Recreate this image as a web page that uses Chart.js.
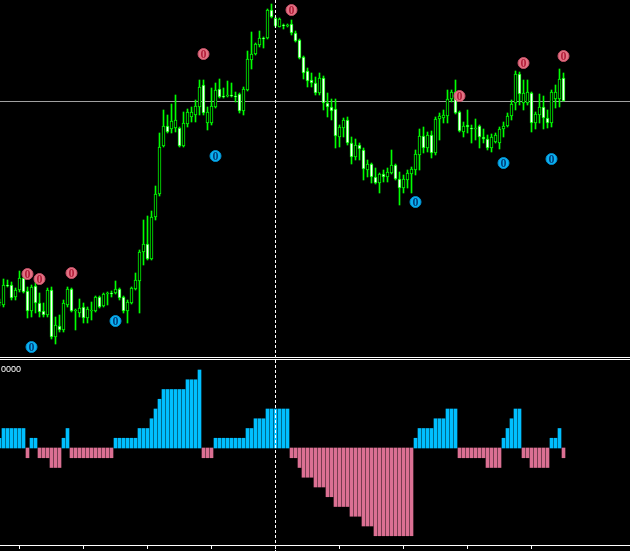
<!DOCTYPE html>
<html>
<head>
<meta charset="utf-8">
<script src="https://cdn.jsdelivr.net/npm/chart.js@4.4.1/dist/chart.umd.min.js"></script>
<style>
	html, body { margin: 0; padding: 0; background: #000; overflow: hidden; }
	canvas { display: block; }
</style>
</head>
<body>
<canvas id="myChart" width="630" height="551"></canvas>
<script>
	//Candle Data (one entry per bar, oldest first, first bar index is firstBar)
	var firstBar = -1;
	var openPrices = [57, 55, 75, 75, 63, 70, 82, 69, 49, 74, 57, 49, 45, 70, 23, 34, 30, 55, 71, 49, 47, 53, 42, 49, 49, 63, 54, 66, 67, 67, 71, 63, 49, 57, 71, 79,
		108, 116, 101, 143, 166, 214, 234, 231, 232, 232, 214, 236, 243, 245, 253, 275, 237, 237, 253, 271, 264, 264, 265, 264, 266, 249, 270, 300, 306, 315, 322, 322,
		350, 342, 333, 335, 334, 336, 327, 320, 303, 289, 280, 277, 267, 282, 257, 253, 251, 223, 232, 240, 217, 203, 215, 210, 190, 196, 183, 177, 186, 183, 187, 195,
		181, 172, 180, 186, 190, 205, 224, 212, 225, 207, 241, 242, 244, 261, 268, 248, 228, 235, 232, 231, 234, 223, 221, 212, 218, 217, 231, 234, 244, 257, 286, 257,
		257, 267, 237, 245, 253, 242, 237, 261, 261, 282];
	var highPrices = [61, 81, 80, 78, 72, 89, 83, 73, 75, 82, 67, 57, 72, 73, 43, 45, 60, 73, 72, 51, 61, 57, 53, 58, 64, 64, 67, 68, 69, 79, 72, 64, 60, 73, 87, 110,
		140, 144, 149, 174, 227, 250, 245, 256, 265, 233, 248, 251, 253, 260, 280, 280, 253, 272, 277, 281, 272, 279, 277, 268, 267, 273, 309, 328, 317, 329, 323, 351,
		356, 343, 342, 336, 336, 340, 329, 321, 304, 292, 287, 283, 287, 284, 267, 261, 261, 235, 242, 243, 223, 221, 217, 212, 200, 197, 192, 187, 190, 192, 210, 196,
		188, 185, 190, 193, 210, 231, 233, 228, 229, 243, 247, 250, 270, 270, 280, 249, 238, 250, 235, 241, 235, 231, 225, 226, 227, 233, 238, 247, 260, 289, 288, 280,
		280, 268, 248, 266, 264, 250, 270, 275, 291, 287];
	var lowPrices = [54, 53, 73, 60, 60, 68, 67, 42, 43, 47, 43, 43, 43, 21, 16, 28, 28, 53, 48, 30, 43, 37, 37, 40, 48, 52, 53, 55, 63, 66, 60, 47, 37, 56, 70, 47,
		95, 100, 100, 140, 164, 213, 227, 227, 228, 213, 213, 233, 238, 238, 245, 245, 230, 235, 252, 262, 262, 263, 263, 258, 247, 245, 269, 291, 305, 313, 312, 321,
		342, 333, 333, 331, 333, 325, 318, 301, 281, 273, 273, 265, 265, 250, 243, 240, 212, 213, 223, 215, 196, 200, 200, 180, 183, 177, 176, 167, 178, 178, 186, 180,
		155, 167, 172, 167, 185, 190, 207, 208, 202, 205, 220, 237, 237, 258, 246, 228, 223, 227, 217, 220, 212, 217, 210, 208, 217, 211, 223, 233, 240, 250, 255, 250,
		255, 228, 231, 237, 231, 232, 233, 252, 253, 259];
	var closePrices = [58, 75, 74, 62, 70, 82, 68, 49, 73, 57, 48, 45, 70, 23, 35, 30, 57, 71, 49, 50, 52, 42, 51, 50, 63, 53, 66, 67, 66, 71, 62, 49, 58, 72, 80, 108,
		116, 101, 143, 166, 213, 234, 228, 239, 240, 214, 237, 248, 248, 254, 273, 247, 248, 254, 270, 263, 263, 265, 264, 263, 249, 271, 301, 306, 316, 322, 321, 350,
		343, 334, 341, 334, 335, 327, 319, 302, 287, 279, 277, 267, 282, 257, 253, 249, 224, 233, 240, 217, 203, 215, 211, 191, 196, 183, 177, 186, 183, 188, 195, 181,
		172, 181, 187, 191, 206, 224, 212, 225, 207, 241, 244, 245, 261, 268, 247, 229, 234, 233, 231, 232, 223, 221, 212, 223, 225, 231, 234, 244, 256, 286, 266, 267,
		268, 237, 246, 253, 242, 237, 268, 268, 281, 259];

	//Oscillator Histogram Data (same bars)
	var histValues = [1, 2, 2, 2, 2, 2, 2, -1, 1, 1, -1, -1, -1, -2, -2, -2, 1, 2, -1, -1, -1, -1, -1, -1, -1, -1, -1, -1, -1, 1, 1, 1, 1, 1, 1, 2, 2, 2, 3, 4, 5,
		6, 6, 6, 6, 6, 6, 7, 7, 7, 8, -1, -1, -1, 1, 1, 1, 1, 1, 1, 1, 1, 2, 2, 3, 3, 3, 4, 4, 4, 4, 4, 4, -1, -1, -2, -3, -3, -3, -4, -4, -4, -5, -5, -6, -6, -6, -6,
		-7, -7, -7, -8, -8, -8, -9, -9, -9, -9, -9, -9, -9, -9, -9, -9, 1, 2, 2, 2, 2, 3, 3, 3, 4, 4, 4, -1, -1, -1, -1, -1, -1, -1, -2, -2, -2, -2, 1, 2, 3, 4, 4,
		-1, -1, -2, -2, -2, -2, -2, 1, 1, 2, -1];

	//Signal Markers
	var upMarkBars = [6, 9, 17, 50, 72, 114, 130, 140];
	var upMarkPrices = [86, 81, 87, 306, 350, 264, 297, 304];
	var downMarkBars = [7, 28, 53, 103, 125, 137];
	var downMarkPrices = [13, 39, 204, 158, 197, 201];

	//Other Levels
	var bidPrice = 259;
	var cursorBar = 68;
	var timeTicks = [4, 20, 36, 52, 68, 84, 100, 116, 132];
	var indicatorLabel = "0000";

	//Colours
	var candleColor = "#00ff00";
	var histUpColor = "#00bfff";
	var histDownColor = "#db7093";

	//Build Chart Datasets
	var wickData = [];
	var bodyData = [];
	var bodyColors = [];
	var histData = [];
	var histColors = [];
	for (var i = 0; i < openPrices.length; i++) {
		var bar = firstBar + i;
		wickData.push({ x: bar, y: [lowPrices[i], highPrices[i]] });
		bodyData.push({ x: bar, y: [openPrices[i], closePrices[i]] });
		bodyColors.push(closePrices[i] >= openPrices[i] ? "#000000" : "#ffffff");
		histData.push({ x: bar, y: histValues[i] });
		histColors.push(histValues[i] >= 0 ? histUpColor : histDownColor);
	}
	var upMarkData = [];
	for (var i = 0; i < upMarkBars.length; i++) {
		upMarkData.push({ x: upMarkBars[i], y: upMarkPrices[i] });
	}
	var downMarkData = [];
	for (var i = 0; i < downMarkBars.length; i++) {
		downMarkData.push({ x: downMarkBars[i], y: downMarkPrices[i] });
	}

	//Lines, Ticks and Marker Text
	var overlayPlugin = {
		id: 'overlay',
		beforeDatasetsDraw: function (chart) {
			var ctx = chart.ctx;
			var area = chart.chartArea;
			var y = Math.round(chart.scales.y.getPixelForValue(bidPrice)) + 0.5;
			ctx.save();
			ctx.strokeStyle = "#a0a0a0";
			ctx.lineWidth = 1;
			ctx.beginPath();
			ctx.moveTo(area.left, y);
			ctx.lineTo(area.right, y);
			ctx.stroke();
			ctx.restore();
		},
		afterDatasetsDraw: function (chart) {
			var ctx = chart.ctx;
			var area = chart.chartArea;
			var xScale = chart.scales.x;
			ctx.save();
			ctx.strokeStyle = "#ffffff";
			ctx.lineWidth = 1;

			//Window separator
			ctx.beginPath();
			ctx.moveTo(area.left, 357.5);
			ctx.lineTo(area.right, 357.5);
			ctx.moveTo(area.left, 359.5);
			ctx.lineTo(area.right, 359.5);
			//Time axis
			ctx.moveTo(area.left, 545.5);
			ctx.lineTo(area.right, 545.5);
			for (var t = 0; t < timeTicks.length; t++) {
				var tx = Math.floor(xScale.getPixelForValue(timeTicks[t])) + 0.5;
				ctx.moveTo(tx, 545);
				ctx.lineTo(tx, 549);
			}
			ctx.stroke();

			//Cursor line
			var cx = Math.floor(xScale.getPixelForValue(cursorBar)) + 0.5;
			ctx.setLineDash([3, 2]);
			ctx.beginPath();
			ctx.moveTo(cx, area.top);
			ctx.lineTo(cx, area.bottom);
			ctx.stroke();
			ctx.setLineDash([]);

			//Indicator label
			ctx.fillStyle = "#ffffff";
			ctx.font = '9px "Liberation Sans"';
			ctx.textBaseline = "top";
			ctx.textAlign = "left";
			ctx.fillText(indicatorLabel, 1, 365);

			//Marker digits
			ctx.font = 'bold 12px "Liberation Serif"';
			ctx.textAlign = "center";
			ctx.textBaseline = "middle";
			var marks = [[0, "#b4203c"], [1, "#00407e"]];
			for (var m = 0; m < marks.length; m++) {
				var meta = chart.getDatasetMeta(marks[m][0]);
				ctx.fillStyle = marks[m][1];
				for (var p = 0; p < meta.data.length; p++) {
					ctx.fillText("0", meta.data[p].x, meta.data[p].y + 1);
				}
			}
			ctx.restore();
		}
	};

	//Create Chart
	var ctx = document.getElementById('myChart').getContext("2d");
	var myChart = new Chart(ctx, {
		type: 'bar',
		data: {
			datasets: [{
					type: 'line',
					label: "Up signal",
					data: upMarkData,
					yAxisID: 'y',
					showLine: false,
					pointRadius: 5.5,
					pointBorderWidth: 1,
					pointBackgroundColor: "#e27384",
					pointBorderColor: "#c85068"
				},
				{
					type: 'line',
					label: "Down signal",
					data: downMarkData,
					yAxisID: 'y',
					showLine: false,
					pointRadius: 5.5,
					pointBorderWidth: 1,
					pointBackgroundColor: "#0cb0f0",
					pointBorderColor: "#0090d0"
				},
				{
					label: "Bodies",
					data: bodyData,
					yAxisID: 'y',
					grouped: false,
					barThickness: 3,
					backgroundColor: bodyColors,
					borderColor: candleColor,
					borderWidth: 1,
					borderSkipped: false
				},
				{
					label: "Wicks",
					data: wickData,
					yAxisID: 'y',
					grouped: false,
					barThickness: 1,
					backgroundColor: candleColor,
					borderWidth: 0
				},
				{
					label: "Histogram",
					data: histData,
					yAxisID: 'h',
					grouped: false,
					barThickness: 3,
					backgroundColor: histColors,
					borderWidth: 0
				}]
		},
		//Chart Options
		options: {
			responsive: false,
			animation: false,
			events: [],
			layout: { padding: 0, autoPadding: false },
			plugins: {
				legend: { display: false },
				tooltip: { enabled: false }
			},
			scales: {
				x: { type: 'linear', display: false, offset: false, min: -0.875, max: 156.625 },
				y: { type: 'linear', display: false, min: -191, max: 360 },
				h: { type: 'linear', display: false, min: -10.5641, max: 45.9487 }
			}
		},
		plugins: [overlayPlugin]
	});
</script>
</body>
</html>
